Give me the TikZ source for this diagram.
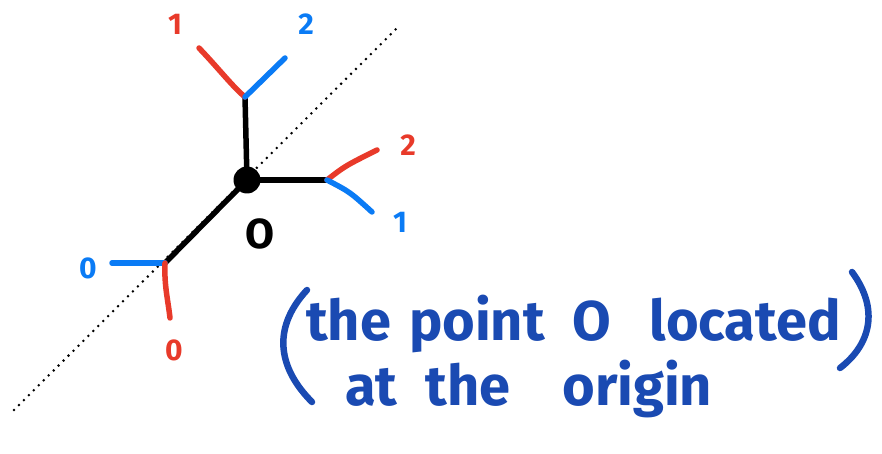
\documentclass[tikz,border=0pt]{standalone}
\usepackage{fontspec}
\setmainfont{Fira Sans}
\definecolor{hred}{HTML}{E83A2A}
\definecolor{hblue}{HTML}{0A7BF5}
\definecolor{tblue}{HTML}{1A4AB2}
\begin{document}
\begin{tikzpicture}[x=1pt,y=-1pt,
  stroke/.style={line width=5.5pt,line cap=round,line join=round},
  blk/.style={stroke,black},
  rd/.style={stroke,hred},
  bl/.style={stroke,hblue},
  lab/.style={font=\fontsize{30}{30}\selectfont\bfseries,inner sep=0pt},
  note/.style={font=\fontsize{56}{56}\selectfont\bfseries,text=tblue,inner sep=0pt,anchor=base west}]
\useasboundingbox (0,0) rectangle (882,454);
% dotted diagonal
\coordinate (d1) at (14,410);
\coordinate (d2) at (397,28);
\draw[line width=2.8pt,dash pattern=on 0pt off 7pt,line cap=round] (d1) -- (d2);
% junction points
\coordinate (top) at (245,97);
\coordinate (right) at (327,180);
\coordinate (bot) at (165,263);
\coordinate (t1) at (199,48);
\coordinate (t2) at (285,58);
\coordinate (r2) at (377,150);
\coordinate (r1) at (372,212);
\coordinate (b0) at (112,263);
\coordinate (b0r) at (170,318);
% black edges
\node[circle,fill=black,minimum size=27pt,inner sep=0pt] (o) at (247,180) {};
\draw[blk] (o.center) -- (top);
\draw[blk] (o.center) -- (right);
\draw[blk] (o.center) -- (bot);
% coloured branches
\draw[rd] (top) .. controls (232,86) and (220,70) .. (t1);
\draw[bl] (top) -- (t2);
\draw[rd] (right) .. controls (345,166) .. (r2);
\draw[bl] (right) .. controls (350,192) .. (r1);
\draw[bl] (bot) -- (b0);
\draw[rd] (bot) .. controls (164,285) and (168,300) .. (b0r);
% labels
\node[lab,text=hred] (l1) at (175,24) {1};
\node[lab,text=hblue] (l2) at (306,24) {2};
\node[lab,text=hred] (l3) at (408,145) {2};
\node[lab,text=hblue] (l4) at (400,222) {1};
\node[lab,text=hblue] (l5) at (88,268) {0};
\node[lab,text=hred] (l6) at (174,350) {0};
\node[font=\fontsize{42}{42}\selectfont\bfseries,inner sep=0pt] (lo) at (260,234) {O};
% note
\node[note] (n1) at (306,340) {the\hspace{18pt}point\hspace{28pt}O\hspace{38pt}located};
\node[note] (n2) at (345,405) {at\hspace{28pt}the\hspace{52pt}origin};
\draw[stroke,tblue,line width=6.5pt] (307,290) .. controls (270,330) and (280,370) .. (312,402);
\draw[stroke,tblue,line width=6.5pt] (852,272) .. controls (880,310) and (870,345) .. (840,368);
\end{tikzpicture}
\end{document}
